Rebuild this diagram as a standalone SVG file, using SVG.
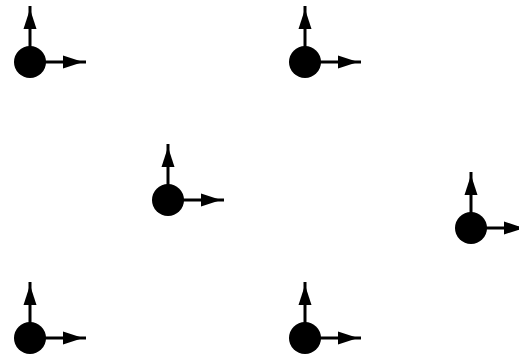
<svg xmlns="http://www.w3.org/2000/svg" width="519" height="357" viewBox="0 0 519 357">
<style>
.ax{stroke:#000;stroke-width:3;fill:none}
.n{fill:#000}
.ah{fill:#000}
</style>
<defs>
<g id="frame">
<line class="ax" x1="0" y1="0" x2="0" y2="-56"/>
<polygon class="ah" points="0,-53 -6.5,-33 6.5,-33"/>
<line class="ax" x1="0" y1="0" x2="56" y2="0"/>
<polygon class="ah" points="53,0 33,-6.5 33,6.5"/>
</g>
</defs>
<g id="connectors">
<use href="#frame" transform="translate(30,62)"/>
<use href="#frame" transform="translate(305,62)"/>
<use href="#frame" transform="translate(168,200)"/>
<use href="#frame" transform="translate(471,228)"/>
<use href="#frame" transform="translate(30,338)"/>
<use href="#frame" transform="translate(305,338)"/>
</g>
<g id="n1"><circle class="n" cx="30" cy="62" r="16"/></g>
<g id="n2"><circle class="n" cx="305" cy="62" r="16"/></g>
<g id="n3"><circle class="n" cx="168" cy="200" r="16"/></g>
<g id="n4"><circle class="n" cx="471" cy="228" r="16"/></g>
<g id="n5"><circle class="n" cx="30" cy="338" r="16"/></g>
<g id="n6"><circle class="n" cx="305" cy="338" r="16"/></g>
</svg>
